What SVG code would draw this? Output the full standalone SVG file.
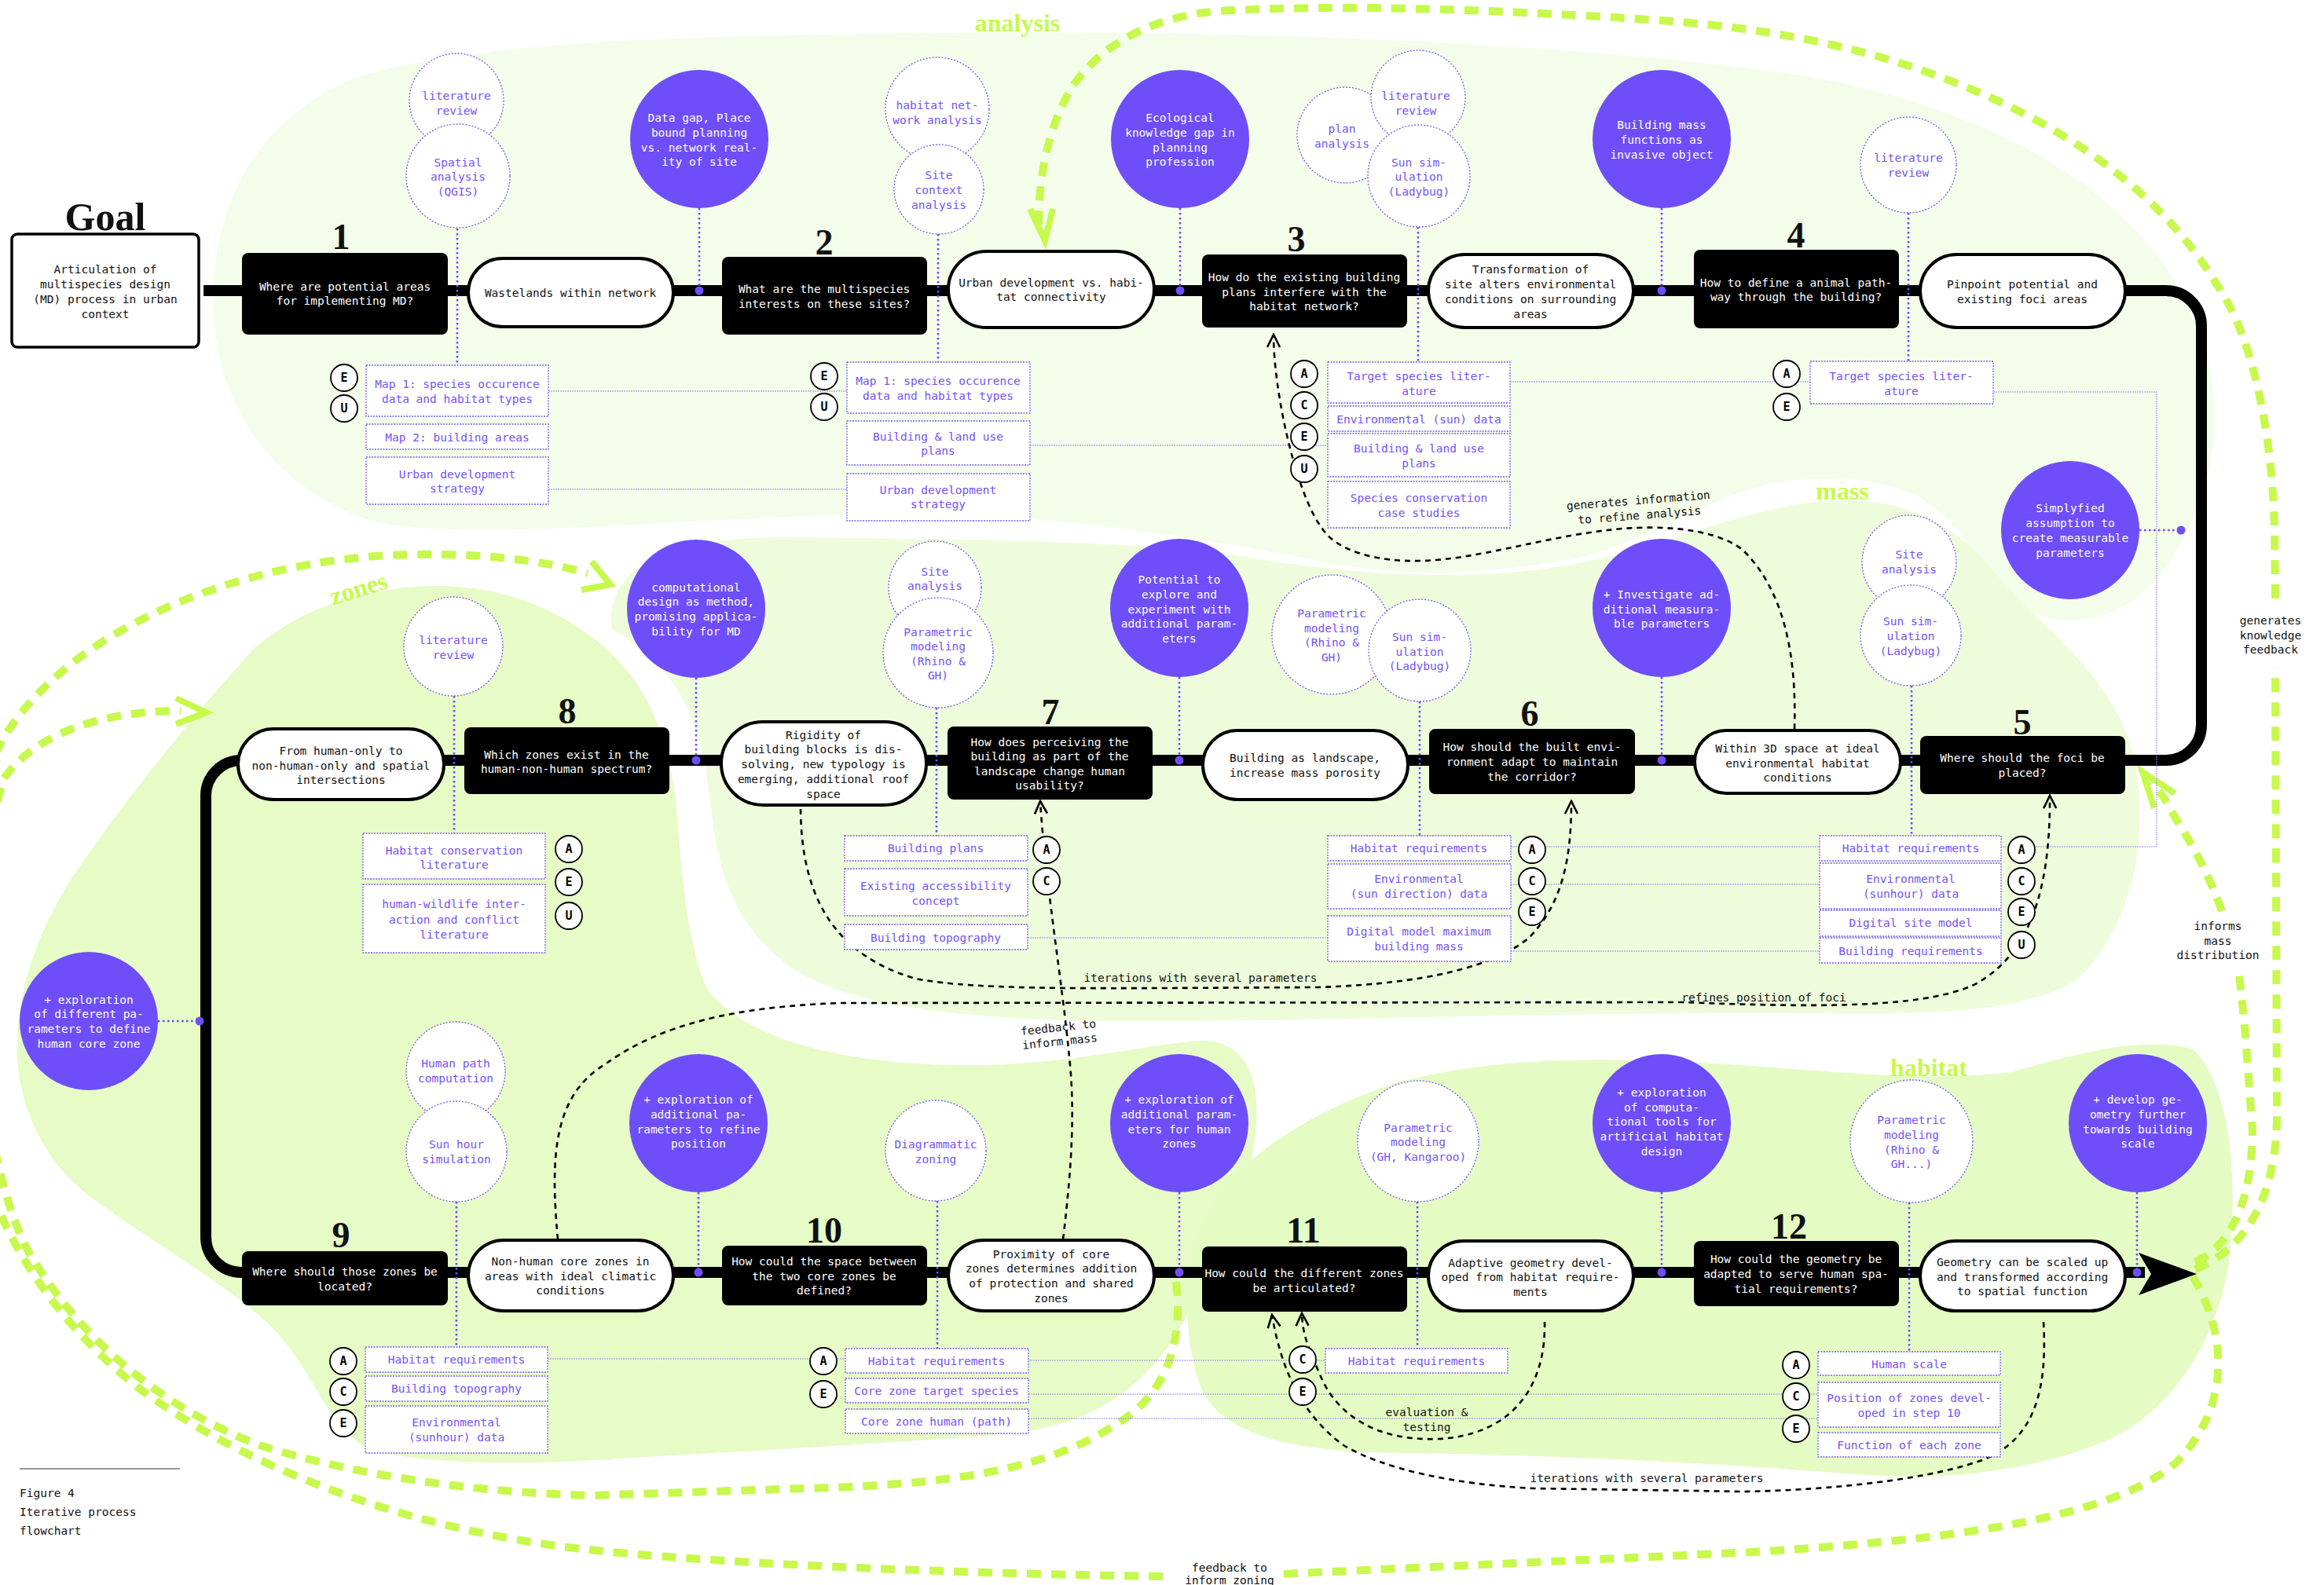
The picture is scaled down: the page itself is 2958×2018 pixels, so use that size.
<svg xmlns="http://www.w3.org/2000/svg" width="2958" height="2018" viewBox="0 0 2958 2018">
<defs>
<style>
text{font-family:"DejaVu Sans Mono","Liberation Mono",monospace;font-size:14.5px;text-anchor:middle;dominant-baseline:central}
.w{fill:#fff}
.k{fill:#111}
.pu{fill:#7452f7}
.q{fill:#000}
.pill{fill:#fff;stroke:#000;stroke-width:4}
.num{font-family:"Liberation Serif",serif;font-weight:bold;font-size:46px;fill:#111;dominant-baseline:auto}
.pc{fill:#6e4ef8}
.tc{fill:#fff;stroke:#7a5af8;stroke-width:1.3;stroke-dasharray:2 2}
.db{fill:#fff;stroke:#7a5af8;stroke-width:1.3;stroke-dasharray:2 1.5}
.lc{fill:#fff;stroke:#000;stroke-width:1.8}
.lt{font-weight:bold;font-size:15px;fill:#000}
.vd{stroke:#6e4ef8;stroke-width:2.6;stroke-dasharray:2.6 3.4;fill:none}
.hl{stroke:#9a86f7;stroke-width:1;stroke-dasharray:2 1;fill:none}
.fb{stroke:#000;stroke-width:2.6;stroke-dasharray:7 6;fill:none}
.lm{stroke:#c6f94c;stroke-width:10;stroke-dasharray:18 13;fill:none}
.lma{stroke:#c6f94c;stroke-width:8;fill:none;stroke-linejoin:miter}
.ll{font-family:"Liberation Serif",serif;font-weight:bold;font-size:32px;fill:#c6f94c;dominant-baseline:auto}
.dot{fill:#6e4ef8}
</style>
<marker id="vh" viewBox="0 0 20 20" refX="18" refY="10" markerWidth="20" markerHeight="20" markerUnits="userSpaceOnUse" orient="auto">
<path d="M2,2 L18,10 L2,18" fill="none" stroke="#000" stroke-width="2.6"/>
</marker>
</defs>

<rect width="2958" height="2018" fill="#fff"/>

<!-- phase regions -->
<g id="regions">
<path id="region-analysis" fill="#f4fde9" d="M272,400 C265,260 330,150 450,100 C600,50 900,45 1200,42 C1500,38 1900,48 2220,86 C2520,120 2720,240 2790,400 C2830,490 2825,580 2795,650 C2765,730 2710,790 2635,790 C2560,790 2525,730 2495,680 C2460,630 2400,605 2300,610 C2190,615 2110,690 2000,712 C1900,730 1800,735 1700,718 C1550,690 1350,650 1100,655 C850,660 600,690 480,665 C360,630 278,530 272,400 Z"/>
<path id="region-mass" fill="#eefcdb" d="M778,800 C772,720 850,684 1000,684 C1200,686 1420,688 1560,705 C1700,730 1850,742 1980,722 C2120,700 2200,650 2320,638 C2430,630 2490,670 2540,730 C2600,800 2690,860 2715,960 C2740,1070 2710,1190 2640,1250 C2570,1290 2450,1292 2300,1290 C2000,1288 1700,1300 1450,1300 C1250,1300 1100,1285 1020,1240 C940,1190 915,1120 905,1030 C895,940 880,860 778,800 Z"/>
<path id="region-zones" fill="#e6fbc6" d="M326,823 C390,770 470,748 550,746 C640,745 710,775 765,820 C830,875 855,950 862,1040 C868,1120 875,1200 900,1260 C950,1320 1050,1350 1200,1356 C1350,1360 1450,1330 1530,1325 C1590,1325 1605,1380 1598,1440 C1590,1540 1540,1630 1490,1710 C1440,1780 1380,1815 1280,1826 C1100,1840 900,1850 740,1860 C620,1866 520,1860 470,1845 C420,1820 400,1750 354,1698 C300,1640 190,1580 110,1520 C60,1480 28,1420 22,1350 C18,1280 40,1200 90,1120 C150,1030 250,905 326,823 Z"/>
<path id="region-habitat" fill="#e4fcc3" d="M1530,1560 C1570,1470 1680,1410 1780,1378 C1900,1345 2050,1345 2200,1355 C2350,1365 2450,1378 2560,1365 C2650,1340 2720,1320 2790,1335 C2840,1380 2848,1500 2838,1600 C2825,1700 2770,1790 2690,1830 C2600,1872 2480,1885 2380,1878 C2200,1865 2000,1852 1780,1850 C1650,1848 1560,1830 1530,1770 C1505,1710 1505,1620 1530,1560 Z"/>
</g>

<!-- large feedback loops between phases -->
<g id="loops">
<path class="lm" d="M2794,1616 C2860,1590 2898,1520 2898,1420 L2896,850"/>
<path class="lm" d="M2896,762 L2895,670 C2892,560 2870,430 2820,360 C2760,260 2650,170 2500,110 C2380,60 2250,35 2100,25 C1900,12 1700,5 1550,14 C1460,22 1400,60 1365,110 C1335,160 1322,220 1322,288"/>
<polyline class="lma" points="1311,266 1330,306 1340,266"/>
<path class="lm" d="M2794,1607 C2840,1585 2866,1530 2867,1440 L2860,1346 C2857,1300 2853,1270 2850,1240"/>
<path class="lm" d="M2828,1160 C2810,1110 2790,1075 2768,1040 C2758,1020 2748,1006 2738,995"/>
<polyline class="lma" points="2768,1010 2727,983 2742,1029"/>
<path class="lm" d="M2791,1625 C2835,1700 2840,1790 2770,1862 C2680,1940 2450,1962 2232,1976 L1631,2004"/>
<path class="lm" d="M1480,2007 C1200,2003 900,1990 740,1972 C500,1945 300,1860 175,1766 C80,1690 20,1600 -10,1520 C-80,1300 -60,1050 5,939 C90,800 300,720 480,708 C600,700 700,715 748,730"/>
<polyline class="lma" points="753,715 777,744 740,751"/>
<path class="lm" d="M1497,1632 C1505,1700 1490,1760 1440,1800 C1360,1860 1250,1890 1023,1895 L754,1904 C600,1900 450,1878 330,1840 C200,1790 100,1700 40,1600 C-20,1500 -60,1200 5,991 C40,940 120,905 230,905"/>
<polyline class="lma" points="224,889 262,907 224,922"/>
<text class="ll" x="1295" y="40">analysis</text>
<text class="ll" x="2345" y="636">mass</text>
<text class="ll" x="2455" y="1370">habitat</text>
<text class="ll" x="456" y="760" transform="rotate(-17 456 748)">zones</text>
<text class="k"><tspan x="2890" y="790">generates</tspan><tspan x="2890" y="809">knowledge</tspan><tspan x="2890" y="827">feedback</tspan></text>
<text class="k"><tspan x="2823" y="1179">informs</tspan><tspan x="2823" y="1198">mass</tspan><tspan x="2823" y="1216">distribution</tspan></text>
<text class="k"><tspan x="1565" y="1996">feedback to</tspan><tspan x="1565" y="2012">inform zoning</tspan></text>
</g>

<!-- connectors: main flow, method links, data links, iteration loops -->
<g id="connectors">
<path d="M259,370 H2757 A45,45 0 0 1 2802,415 V923 A45,45 0 0 1 2757,968 H307 A45,45 0 0 0 262,1013 V1575 A45,45 0 0 0 307,1620 H2730" fill="none" stroke="#000" stroke-width="14"/>
<polygon points="2722,1595 2796,1622 2722,1649 2738,1622" fill="#000"/>

<!-- data links -->
<path class="hl" d="M698,498 H1078 M698,623 H1078 M1311,567 H1690 M1922,486 H2304 M2537,499 H2745 V1078 H2547"/>
<path class="hl" d="M1923,1078 H2316 M1923,1126 H2316 M1923,1211 H2316 M1308,1194 H1690"/>
<path class="hl" d="M697,1730 H1076 M1309,1732 H1687 M1309,1775 H2314 M1309,1806 H2314"/>

<!-- method links -->
<path class="vd" d="M582,291 V465 M1194,298 V461 M1805,289 V461 M2429,271 V460 M890,265 V370 M1502,265 V370 M2115,265 V370"/>
<path class="vd" d="M2433,873 V1064 M1807,893 V1064 M1192,901 V1064 M578,886 V1061 M2115,862 V968 M1501,862 V968 M886,863 V968"/>
<path class="vd" d="M581,1530 V1715 M1193,1529 V1717 M1804,1530 V1717 M2430,1531 V1721 M889,1518 V1620 M1501,1518 V1620 M2115,1518 V1620 M2720,1518 V1620"/>
<path class="vd" d="M201,1300 H254 M2723,675 H2776"/>
<g class="dot">
<circle cx="890" cy="370" r="5.5"/><circle cx="1502" cy="370" r="5.5"/><circle cx="2115" cy="370" r="5.5"/>
<circle cx="2115" cy="968" r="5.5"/><circle cx="1501" cy="968" r="5.5"/><circle cx="886" cy="968" r="5.5"/>
<circle cx="889" cy="1620" r="5.5"/><circle cx="1501" cy="1620" r="5.5"/><circle cx="2115" cy="1620" r="5.5"/><circle cx="2720" cy="1620" r="5.5"/>
<circle cx="254" cy="1300" r="5.5"/><circle cx="2776" cy="675" r="5.5"/>
</g>

<!-- iteration loops -->
<path class="fb" marker-end="url(#vh)" d="M2284,928 C2286,860 2280,760 2218,700 C2180,670 2100,668 2046,675 C1960,685 1880,712 1810,714 C1750,716 1700,700 1683,673 C1650,630 1621,500 1621,426"/>
<path class="fb" marker-end="url(#vh)" d="M1019,1030 C1020,1140 1060,1215 1165,1246 C1250,1262 1400,1258 1678,1257 C1820,1252 1900,1230 1945,1195 C1990,1150 2000,1090 2000,1020"/>
<path class="fb" marker-end="url(#vh)" d="M710,1578 C700,1470 705,1395 770,1355 C840,1305 930,1282 1070,1277 L2141,1276 C2300,1282 2440,1285 2510,1255 C2580,1220 2610,1140 2609,1013"/>
<path class="fb" marker-end="url(#vh)" d="M1353,1578 C1365,1480 1368,1410 1361,1346 C1352,1250 1330,1120 1324,1020"/>
<path class="fb" marker-end="url(#vh)" d="M1966,1683 C1968,1770 1920,1828 1830,1832 C1750,1835 1700,1800 1680,1750 C1665,1715 1658,1700 1657,1672"/>
<path class="fb" marker-end="url(#vh)" d="M2601,1683 C2606,1770 2590,1835 2520,1860 C2440,1888 2300,1898 2218,1899 L1952,1895 C1850,1890 1760,1870 1710,1840 C1655,1800 1630,1740 1619,1674"/>
<g transform="rotate(-4.5 2086 646)"><text class="k"><tspan x="2086" y="637">generates information</tspan><tspan x="2086" y="656">to refine analysis</tspan></text></g>
<text class="k" x="1528" y="1245">iterations with several parameters</text>
<text class="k" x="2245" y="1270">refines position of foci</text>
<g transform="rotate(-6 1348 1317)"><text class="k"><tspan x="1348" y="1308">feedback to</tspan><tspan x="1348" y="1326">inform mass</tspan></text></g>
<text class="k"><tspan x="1816" y="1798">evaluation &amp;</tspan><tspan x="1816" y="1817">testing</tspan></text>
<text class="k" x="2096" y="1882">iterations with several parameters</text>
</g>

<!-- goal -->
<g id="goal">
<text class="num" x="134" y="293" style="font-size:50px">Goal</text>
<rect x="15" y="298" width="238" height="144" rx="7" fill="#fff" stroke="#000" stroke-width="3.5"/>
<text class="k"><tspan x="134" y="343">Articulation of</tspan><tspan x="134" y="362">multispecies design</tspan><tspan x="134" y="381">(MD) process in urban</tspan><tspan x="134" y="400">context</tspan></text>
</g>

<!-- questions -->
<g id="q1"><text class="num" x="434" y="317">1</text><rect class="q" x="308" y="322" width="262" height="104" rx="8"/><text class="w"><tspan x="439" y="365">Where are potential areas</tspan><tspan x="439" y="383">for implementing MD?</tspan></text></g>
<g id="q2"><text class="num" x="1049" y="324">2</text><rect class="q" x="919" y="327" width="261" height="99" rx="8"/><text class="w"><tspan x="1049" y="368">What are the multispecies</tspan><tspan x="1049" y="387">interests on these sites?</tspan></text></g>
<g id="q3"><text class="num" x="1650" y="320">3</text><rect class="q" x="1530" y="324" width="261" height="93" rx="8"/><text class="w"><tspan x="1660" y="353">How do the existing building</tspan><tspan x="1660" y="372">plans interfere with the</tspan><tspan x="1660" y="390">habitat network?</tspan></text></g>
<g id="q4"><text class="num" x="2286" y="315">4</text><rect class="q" x="2156" y="318" width="261" height="100" rx="8"/><text class="w"><tspan x="2286" y="360">How to define a animal path-</tspan><tspan x="2286" y="378">way through the building?</tspan></text></g>
<g id="q5"><text class="num" x="2574" y="935">5</text><rect class="q" x="2444" y="937" width="261" height="74" rx="8"/><text class="w"><tspan x="2574" y="965">Where should the foci be</tspan><tspan x="2574" y="984">placed?</tspan></text></g>
<g id="q6"><text class="num" x="1947" y="924">6</text><rect class="q" x="1819" y="928" width="262" height="83" rx="8"/><text class="w"><tspan x="1950" y="951">How should the built envi-</tspan><tspan x="1950" y="970">ronment adapt to maintain</tspan><tspan x="1950" y="989">the corridor?</tspan></text></g>
<g id="q7"><text class="num" x="1337" y="922">7</text><rect class="q" x="1206" y="925" width="261" height="93" rx="8"/><text class="w"><tspan x="1336" y="945">How does perceiving the</tspan><tspan x="1336" y="963">building as part of the</tspan><tspan x="1336" y="982">landscape change human</tspan><tspan x="1336" y="1000">usability?</tspan></text></g>
<g id="q8"><text class="num" x="722" y="921">8</text><rect class="q" x="591" y="926" width="261" height="85" rx="8"/><text class="w"><tspan x="721" y="961">Which zones exist in the</tspan><tspan x="721" y="979">human-non-human spectrum?</tspan></text></g>
<g id="q9"><text class="num" x="434" y="1588">9</text><rect class="q" x="308" y="1593" width="262" height="69" rx="8"/><text class="w"><tspan x="439" y="1619">Where should those zones be</tspan><tspan x="439" y="1638">located?</tspan></text></g>
<g id="q10"><text class="num" x="1049" y="1582">10</text><rect class="q" x="919" y="1586" width="261" height="76" rx="8"/><text class="w"><tspan x="1049" y="1606">How could the space between</tspan><tspan x="1049" y="1625">the two core zones be</tspan><tspan x="1049" y="1643">defined?</tspan></text></g>
<g id="q11"><text class="num" x="1659" y="1582">11</text><rect class="q" x="1530" y="1587" width="261" height="83" rx="8"/><text class="w"><tspan x="1660" y="1621">How could the different zones</tspan><tspan x="1660" y="1640">be articulated?</tspan></text></g>
<g id="q12"><text class="num" x="2277" y="1577">12</text><rect class="q" x="2156" y="1580" width="261" height="83" rx="8"/><text class="w"><tspan x="2286" y="1603">How could the geometry be</tspan><tspan x="2286" y="1622">adapted to serve human spa-</tspan><tspan x="2286" y="1641">tial requirements?</tspan></text></g>

<!-- outcomes -->
<g id="o1"><rect class="pill" x="596" y="329" width="261" height="87" rx="43.5"/><text class="k" x="726" y="373">Wastelands within network</text></g>
<g id="o2"><rect class="pill" x="1207" y="320" width="262" height="97" rx="48.5"/><text class="k"><tspan x="1338" y="360">Urban development vs. habi-</tspan><tspan x="1338" y="378">tat connectivity</tspan></text></g>
<g id="o3"><rect class="pill" x="1818" y="324" width="261" height="93" rx="46.5"/><text class="k"><tspan x="1948" y="343">Transformation of</tspan><tspan x="1948" y="362">site alters environmental</tspan><tspan x="1948" y="381">conditions on surrounding</tspan><tspan x="1948" y="400">areas</tspan></text></g>
<g id="o4"><rect class="pill" x="2444" y="324" width="261" height="93" rx="46.5"/><text class="k"><tspan x="2574" y="362">Pinpoint potential and</tspan><tspan x="2574" y="381">existing foci areas</tspan></text></g>
<g id="o5"><rect class="pill" x="2157" y="930" width="262" height="80" rx="40"/><text class="k"><tspan x="2288" y="953">Within 3D space at ideal</tspan><tspan x="2288" y="972">environmental habitat</tspan><tspan x="2288" y="990">conditions</tspan></text></g>
<g id="o6"><rect class="pill" x="1531" y="930" width="261" height="88" rx="44"/><text class="k"><tspan x="1661" y="965">Building as landscape,</tspan><tspan x="1661" y="984">increase mass porosity</tspan></text></g>
<g id="o7"><rect class="pill" x="918" y="919" width="261" height="106" rx="53"/><text class="k"><tspan x="1048" y="936">Rigidity of</tspan><tspan x="1048" y="954">building blocks is dis-</tspan><tspan x="1048" y="973">solving, new typology is</tspan><tspan x="1048" y="992">emerging, additional roof</tspan><tspan x="1048" y="1011">space</tspan></text></g>
<g id="o8"><rect class="pill" x="303" y="928" width="262" height="90" rx="45"/><text class="k"><tspan x="434" y="956">From human-only to</tspan><tspan x="434" y="975">non-human-only and spatial</tspan><tspan x="434" y="993">intersections</tspan></text></g>
<g id="o9"><rect class="pill" x="596" y="1579" width="261" height="90" rx="45"/><text class="k"><tspan x="726" y="1606">Non-human core zones in</tspan><tspan x="726" y="1625">areas with ideal climatic</tspan><tspan x="726" y="1643">conditions</tspan></text></g>
<g id="o10"><rect class="pill" x="1207" y="1579" width="262" height="90" rx="45"/><text class="k"><tspan x="1338" y="1597">Proximity of core</tspan><tspan x="1338" y="1615">zones determines addition</tspan><tspan x="1338" y="1634">of protection and shared</tspan><tspan x="1338" y="1653">zones</tspan></text></g>
<g id="o11"><rect class="pill" x="1818" y="1580" width="261" height="89" rx="44.5"/><text class="k"><tspan x="1948" y="1608">Adaptive geometry devel-</tspan><tspan x="1948" y="1626">oped from habitat require-</tspan><tspan x="1948" y="1645">ments</tspan></text></g>
<g id="o12"><rect class="pill" x="2444" y="1580" width="261" height="89" rx="44.5"/><text class="k"><tspan x="2574" y="1607">Geometry can be scaled up</tspan><tspan x="2574" y="1626">and transformed according</tspan><tspan x="2574" y="1644">to spatial function</tspan></text></g>

<!-- reflections -->
<g id="r1"><circle class="pc" cx="890" cy="177" r="88"/><text class="w"><tspan x="890" y="150">Data gap, Place</tspan><tspan x="890" y="169">bound planning</tspan><tspan x="890" y="188">vs. network real-</tspan><tspan x="890" y="206">ity of site</tspan></text></g>
<g id="r2"><circle class="pc" cx="1502" cy="177" r="88"/><text class="w"><tspan x="1502" y="150">Ecological</tspan><tspan x="1502" y="169">knowledge gap in</tspan><tspan x="1502" y="188">planning</tspan><tspan x="1502" y="206">profession</tspan></text></g>
<g id="r3"><circle class="pc" cx="2115" cy="177" r="88"/><text class="w"><tspan x="2115" y="159">Building mass</tspan><tspan x="2115" y="178">functions as</tspan><tspan x="2115" y="197">invasive object</tspan></text></g>
<g id="r4"><circle class="pc" cx="2635" cy="675" r="88"/><text class="w"><tspan x="2635" y="647">Simplyfied</tspan><tspan x="2635" y="666">assumption to</tspan><tspan x="2635" y="685">create measurable</tspan><tspan x="2635" y="704">parameters</tspan></text></g>
<g id="r5"><circle class="pc" cx="2115" cy="774" r="88"/><text class="w"><tspan x="2115" y="757">+ Investigate ad-</tspan><tspan x="2115" y="776">ditional measura-</tspan><tspan x="2115" y="794">ble parameters</tspan></text></g>
<g id="r6"><circle class="pc" cx="1501" cy="774" r="88"/><text class="w"><tspan x="1501" y="738">Potential to</tspan><tspan x="1501" y="757">explore and</tspan><tspan x="1501" y="776">experiment with</tspan><tspan x="1501" y="794">additional param-</tspan><tspan x="1501" y="813">eters</tspan></text></g>
<g id="r7"><circle class="pc" cx="886" cy="775" r="88"/><text class="w"><tspan x="886" y="748">computational</tspan><tspan x="886" y="766">design as method,</tspan><tspan x="886" y="785">promising applica-</tspan><tspan x="886" y="804">bility for MD</tspan></text></g>
<g id="r8"><circle class="pc" cx="113" cy="1300" r="88"/><text class="w"><tspan x="113" y="1273">+ exploration</tspan><tspan x="113" y="1291">of different pa-</tspan><tspan x="113" y="1310">rameters to define</tspan><tspan x="113" y="1329">human core zone</tspan></text></g>
<g id="r9"><circle class="pc" cx="889" cy="1430" r="88"/><text class="w"><tspan x="889" y="1400">+ exploration of</tspan><tspan x="889" y="1419">additional pa-</tspan><tspan x="889" y="1438">rameters to refine</tspan><tspan x="889" y="1456">position</tspan></text></g>
<g id="r10"><circle class="pc" cx="1501" cy="1430" r="88"/><text class="w"><tspan x="1501" y="1400">+ exploration of</tspan><tspan x="1501" y="1419">additional param-</tspan><tspan x="1501" y="1438">eters for human</tspan><tspan x="1501" y="1456">zones</tspan></text></g>
<g id="r11"><circle class="pc" cx="2115" cy="1430" r="88"/><text class="w"><tspan x="2115" y="1391">+ exploration</tspan><tspan x="2115" y="1410">of computa-</tspan><tspan x="2115" y="1428">tional tools for</tspan><tspan x="2115" y="1447">artificial habitat</tspan><tspan x="2115" y="1466">design</tspan></text></g>
<g id="r12"><circle class="pc" cx="2721" cy="1430" r="88"/><text class="w"><tspan x="2721" y="1400">+ develop ge-</tspan><tspan x="2721" y="1419">ometry further</tspan><tspan x="2721" y="1438">towards building</tspan><tspan x="2721" y="1456">scale</tspan></text></g>

<!-- methods -->
<g id="m1"><circle class="tc" cx="581" cy="128" r="60"/><text class="pu"><tspan x="581" y="122">literature</tspan><tspan x="581" y="141">review</tspan></text><circle class="tc" cx="583" cy="224" r="66"/><text class="pu"><tspan x="583" y="207">Spatial</tspan><tspan x="583" y="225">analysis</tspan><tspan x="583" y="244">(QGIS)</tspan></text></g>
<g id="m2"><circle class="tc" cx="1193" cy="139" r="66"/><text class="pu"><tspan x="1193" y="134">habitat net-</tspan><tspan x="1193" y="153">work analysis</tspan></text><circle class="tc" cx="1195" cy="241" r="57"/><text class="pu"><tspan x="1195" y="223">Site</tspan><tspan x="1195" y="242">context</tspan><tspan x="1195" y="261">analysis</tspan></text></g>
<g id="m3"><circle class="tc" cx="1712" cy="172" r="61"/><text class="pu"><tspan x="1708" y="164">plan</tspan><tspan x="1708" y="183">analysis</tspan></text><circle class="tc" cx="1805" cy="124" r="60"/><text class="pu"><tspan x="1802" y="122">literature</tspan><tspan x="1802" y="141">review</tspan></text><circle class="tc" cx="1806" cy="224" r="65"/><text class="pu"><tspan x="1806" y="207">Sun sim-</tspan><tspan x="1806" y="225">ulation</tspan><tspan x="1806" y="244">(Ladybug)</tspan></text></g>
<g id="m4"><circle class="tc" cx="2429" cy="210" r="61"/><text class="pu"><tspan x="2429" y="201">literature</tspan><tspan x="2429" y="220">review</tspan></text></g>
<g id="m5"><circle class="tc" cx="2430" cy="716" r="60"/><text class="pu"><tspan x="2430" y="706">Site</tspan><tspan x="2430" y="725">analysis</tspan></text><circle class="tc" cx="2432" cy="809" r="64"/><text class="pu"><tspan x="2432" y="791">Sun sim-</tspan><tspan x="2432" y="810">ulation</tspan><tspan x="2432" y="829">(Ladybug)</tspan></text></g>
<g id="m6"><circle class="tc" cx="1695" cy="808" r="76"/><text class="pu"><tspan x="1695" y="781">Parametric</tspan><tspan x="1695" y="800">modeling</tspan><tspan x="1695" y="818">(Rhino &amp;</tspan><tspan x="1695" y="837">GH)</tspan></text><circle class="tc" cx="1807" cy="828" r="65"/><text class="pu"><tspan x="1807" y="811">Sun sim-</tspan><tspan x="1807" y="830">ulation</tspan><tspan x="1807" y="848">(Ladybug)</tspan></text></g>
<g id="m7"><circle class="tc" cx="1190" cy="748" r="59"/><text class="pu"><tspan x="1190" y="728">Site</tspan><tspan x="1190" y="746">analysis</tspan></text><circle class="tc" cx="1194" cy="831" r="70"/><text class="pu"><tspan x="1194" y="805">Parametric</tspan><tspan x="1194" y="823">modeling</tspan><tspan x="1194" y="842">(Rhino &amp;</tspan><tspan x="1194" y="860">GH)</tspan></text></g>
<g id="m8"><circle class="tc" cx="577" cy="823" r="63"/><text class="pu"><tspan x="577" y="815">literature</tspan><tspan x="577" y="834">review</tspan></text></g>
<g id="m9"><circle class="tc" cx="580" cy="1364" r="63"/><text class="pu"><tspan x="580" y="1354">Human path</tspan><tspan x="580" y="1373">computation</tspan></text><circle class="tc" cx="581" cy="1466" r="64"/><text class="pu"><tspan x="581" y="1457">Sun hour</tspan><tspan x="581" y="1476">simulation</tspan></text></g>
<g id="m10"><circle class="tc" cx="1191" cy="1465" r="64"/><text class="pu"><tspan x="1191" y="1457">Diagrammatic</tspan><tspan x="1191" y="1476">zoning</tspan></text></g>
<g id="m11"><circle class="tc" cx="1805" cy="1453" r="77"/><text class="pu"><tspan x="1805" y="1436">Parametric</tspan><tspan x="1805" y="1454">modeling</tspan><tspan x="1805" y="1473">(GH, Kangaroo)</tspan></text></g>
<g id="m12"><circle class="tc" cx="2433" cy="1453" r="78"/><text class="pu"><tspan x="2433" y="1426">Parametric</tspan><tspan x="2433" y="1445">modeling</tspan><tspan x="2433" y="1464">(Rhino &amp;</tspan><tspan x="2433" y="1482">GH...)</tspan></text></g>

<!-- data sources -->
<g id="d1">
<rect class="db" x="466" y="465" width="232" height="65"/><text class="pu"><tspan x="582" y="489">Map 1: species occurence</tspan><tspan x="582" y="508">data and habitat types</tspan></text>
<rect class="db" x="466" y="540" width="232" height="32"/><text class="pu" x="582" y="557">Map 2: building areas</text>
<rect class="db" x="466" y="582" width="232" height="60"/><text class="pu"><tspan x="582" y="604">Urban development</tspan><tspan x="582" y="622">strategy</tspan></text>
<circle class="lc" cx="438" cy="481" r="17"/><text class="lt" x="438" y="481">E</text>
<circle class="lc" cx="438" cy="520" r="17"/><text class="lt" x="438" y="520">U</text>
</g>
<g id="d2">
<rect class="db" x="1078" y="461" width="233" height="65"/><text class="pu"><tspan x="1194" y="485">Map 1: species occurence</tspan><tspan x="1194" y="504">data and habitat types</tspan></text>
<rect class="db" x="1078" y="536" width="233" height="56"/><text class="pu"><tspan x="1194" y="556">Building &amp; land use</tspan><tspan x="1194" y="574">plans</tspan></text>
<rect class="db" x="1078" y="603" width="233" height="60"/><text class="pu"><tspan x="1194" y="624">Urban development</tspan><tspan x="1194" y="642">strategy</tspan></text>
<circle class="lc" cx="1049" cy="479" r="17"/><text class="lt" x="1049" y="479">E</text>
<circle class="lc" cx="1049" cy="518" r="17"/><text class="lt" x="1049" y="518">U</text>
</g>
<g id="d3">
<rect class="db" x="1690" y="461" width="232" height="52"/><text class="pu"><tspan x="1806" y="479">Target species liter-</tspan><tspan x="1806" y="498">ature</tspan></text>
<rect class="db" x="1690" y="517" width="232" height="32"/><text class="pu" x="1806" y="534">Environmental (sun) data</text>
<rect class="db" x="1690" y="552" width="232" height="55"/><text class="pu"><tspan x="1806" y="571">Building &amp; land use</tspan><tspan x="1806" y="590">plans</tspan></text>
<rect class="db" x="1690" y="613" width="232" height="59"/><text class="pu"><tspan x="1806" y="634">Species conservation</tspan><tspan x="1806" y="653">case studies</tspan></text>
<circle class="lc" cx="1660" cy="476" r="17"/><text class="lt" x="1660" y="476">A</text>
<circle class="lc" cx="1660" cy="516" r="17"/><text class="lt" x="1660" y="516">C</text>
<circle class="lc" cx="1660" cy="556" r="17"/><text class="lt" x="1660" y="556">E</text>
<circle class="lc" cx="1660" cy="597" r="17"/><text class="lt" x="1660" y="597">U</text>
</g>
<g id="d4">
<rect class="db" x="2304" y="460" width="233" height="54"/><text class="pu"><tspan x="2420" y="479">Target species liter-</tspan><tspan x="2420" y="498">ature</tspan></text>
<circle class="lc" cx="2274" cy="476" r="17"/><text class="lt" x="2274" y="476">A</text>
<circle class="lc" cx="2274" cy="518" r="17"/><text class="lt" x="2274" y="518">E</text>
</g>
<g id="d5">
<rect class="db" x="2316" y="1064" width="231" height="32"/><text class="pu" x="2432" y="1080">Habitat requirements</text>
<rect class="db" x="2316" y="1099" width="231" height="58"/><text class="pu"><tspan x="2432" y="1119">Environmental</tspan><tspan x="2432" y="1138">(sunhour) data</tspan></text>
<rect class="db" x="2316" y="1159" width="231" height="33"/><text class="pu" x="2432" y="1175">Digital site model</text>
<rect class="db" x="2316" y="1194" width="231" height="32"/><text class="pu" x="2432" y="1211">Building requirements</text>
<circle class="lc" cx="2573" cy="1082" r="17"/><text class="lt" x="2573" y="1082">A</text>
<circle class="lc" cx="2573" cy="1122" r="17"/><text class="lt" x="2573" y="1122">C</text>
<circle class="lc" cx="2573" cy="1161" r="17"/><text class="lt" x="2573" y="1161">E</text>
<circle class="lc" cx="2573" cy="1203" r="17"/><text class="lt" x="2573" y="1203">U</text>
</g>
<g id="d6">
<rect class="db" x="1690" y="1064" width="233" height="32"/><text class="pu" x="1806" y="1080">Habitat requirements</text>
<rect class="db" x="1690" y="1100" width="233" height="57"/><text class="pu"><tspan x="1806" y="1119">Environmental</tspan><tspan x="1806" y="1138">(sun direction) data</tspan></text>
<rect class="db" x="1690" y="1166" width="233" height="58"/><text class="pu"><tspan x="1806" y="1186">Digital model maximum</tspan><tspan x="1806" y="1205">building mass</tspan></text>
<circle class="lc" cx="1950" cy="1082" r="17"/><text class="lt" x="1950" y="1082">A</text>
<circle class="lc" cx="1950" cy="1122" r="17"/><text class="lt" x="1950" y="1122">C</text>
<circle class="lc" cx="1950" cy="1161" r="17"/><text class="lt" x="1950" y="1161">E</text>
</g>
<g id="d7">
<rect class="db" x="1075" y="1064" width="233" height="32"/><text class="pu" x="1191" y="1080">Building plans</text>
<rect class="db" x="1075" y="1106" width="233" height="60"/><text class="pu"><tspan x="1191" y="1128">Existing accessibility</tspan><tspan x="1191" y="1147">concept</tspan></text>
<rect class="db" x="1075" y="1177" width="233" height="32"/><text class="pu" x="1191" y="1194">Building topography</text>
<circle class="lc" cx="1332" cy="1082" r="17"/><text class="lt" x="1332" y="1082">A</text>
<circle class="lc" cx="1332" cy="1122" r="17"/><text class="lt" x="1332" y="1122">C</text>
</g>
<g id="d8">
<rect class="db" x="462" y="1061" width="232" height="58"/><text class="pu"><tspan x="578" y="1083">Habitat conservation</tspan><tspan x="578" y="1101">literature</tspan></text>
<rect class="db" x="462" y="1126" width="232" height="87"/><text class="pu"><tspan x="578" y="1151">human-wildlife inter-</tspan><tspan x="578" y="1171">action and conflict</tspan><tspan x="578" y="1190">literature</tspan></text>
<circle class="lc" cx="724" cy="1081" r="17"/><text class="lt" x="724" y="1081">A</text>
<circle class="lc" cx="724" cy="1123" r="17"/><text class="lt" x="724" y="1123">E</text>
<circle class="lc" cx="724" cy="1166" r="17"/><text class="lt" x="724" y="1166">U</text>
</g>
<g id="d9">
<rect class="db" x="465" y="1715" width="232" height="32"/><text class="pu" x="581" y="1731">Habitat requirements</text>
<rect class="db" x="465" y="1752" width="232" height="32"/><text class="pu" x="581" y="1768">Building topography</text>
<rect class="db" x="465" y="1790" width="232" height="60"/><text class="pu"><tspan x="581" y="1811">Environmental</tspan><tspan x="581" y="1830">(sunhour) data</tspan></text>
<circle class="lc" cx="437" cy="1733" r="17"/><text class="lt" x="437" y="1733">A</text>
<circle class="lc" cx="437" cy="1772" r="17"/><text class="lt" x="437" y="1772">C</text>
<circle class="lc" cx="437" cy="1812" r="17"/><text class="lt" x="437" y="1812">E</text>
</g>
<g id="d10">
<rect class="db" x="1076" y="1717" width="233" height="31"/><text class="pu" x="1192" y="1733">Habitat requirements</text>
<rect class="db" x="1076" y="1755" width="233" height="31"/><text class="pu" x="1192" y="1771">Core zone target species</text>
<rect class="db" x="1076" y="1794" width="233" height="31"/><text class="pu" x="1192" y="1810">Core zone human (path)</text>
<circle class="lc" cx="1048" cy="1733" r="17"/><text class="lt" x="1048" y="1733">A</text>
<circle class="lc" cx="1048" cy="1775" r="17"/><text class="lt" x="1048" y="1775">E</text>
</g>
<g id="d11">
<rect class="db" x="1687" y="1717" width="232" height="31"/><text class="pu" x="1803" y="1733">Habitat requirements</text>
<circle class="lc" cx="1658" cy="1731" r="17"/><text class="lt" x="1658" y="1731">C</text>
<circle class="lc" cx="1658" cy="1772" r="17"/><text class="lt" x="1658" y="1772">E</text>
</g>
<g id="d12">
<rect class="db" x="2314" y="1721" width="232" height="30"/><text class="pu" x="2430" y="1737">Human scale</text>
<rect class="db" x="2314" y="1760" width="232" height="57"/><text class="pu"><tspan x="2430" y="1780">Position of zones devel-</tspan><tspan x="2430" y="1799">oped in step 10</tspan></text>
<rect class="db" x="2314" y="1824" width="232" height="31"/><text class="pu" x="2430" y="1840">Function of each zone</text>
<circle class="lc" cx="2286" cy="1738" r="17"/><text class="lt" x="2286" y="1738">A</text>
<circle class="lc" cx="2286" cy="1778" r="17"/><text class="lt" x="2286" y="1778">C</text>
<circle class="lc" cx="2286" cy="1819" r="17"/><text class="lt" x="2286" y="1819">E</text>
</g>

<!-- caption -->
<g id="caption">
<line x1="25" y1="1870" x2="229" y2="1870" stroke="#777" stroke-width="1.5"/>
<text class="k" style="text-anchor:start"><tspan x="25" y="1901">Figure 4</tspan><tspan x="25" y="1925">Iterative process</tspan><tspan x="25" y="1949">flowchart</tspan></text>
</g>
</svg>
